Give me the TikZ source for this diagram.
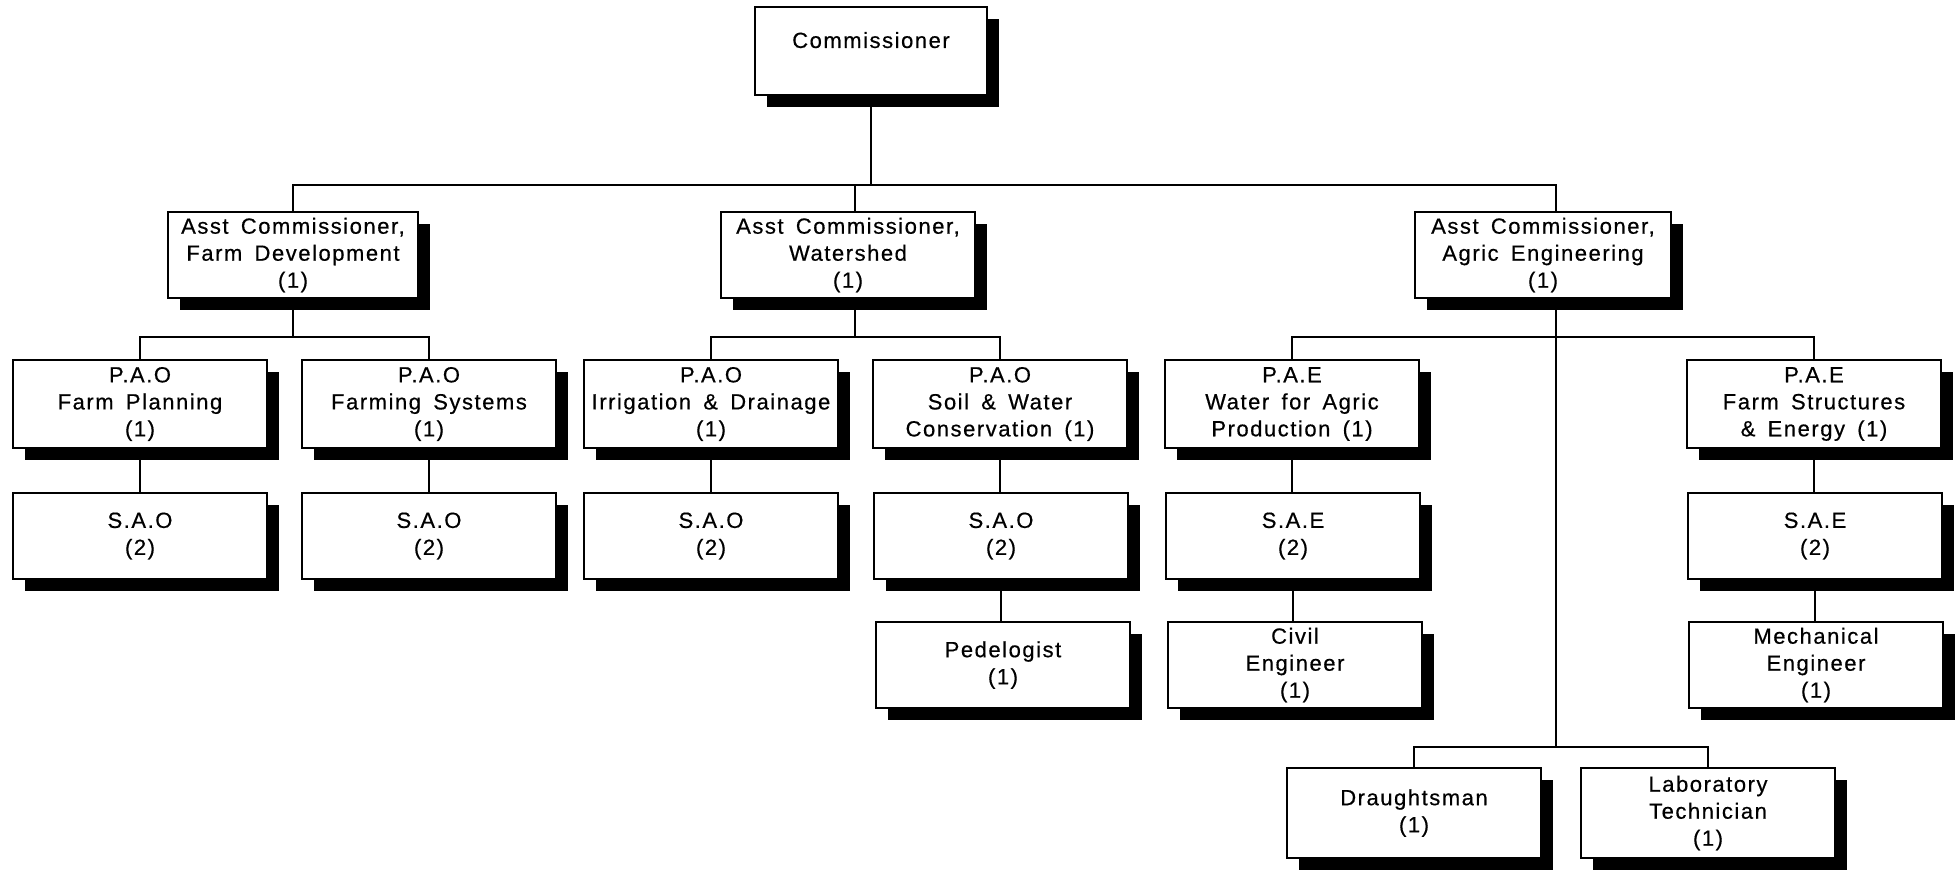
\documentclass[tikz,border=0pt]{standalone}
\usepackage{fontspec}
\setmainfont{Liberation Sans}[LetterSpace=7, WordSpace=1.6, FakeBold=0.5]
\usetikzlibrary{shadows}
\begin{document}
\begin{tikzpicture}[x=1pt,y=-1pt,
  box/.style={draw, line width=1.8pt, fill=white, align=center,
    font=\fontsize{22}{27}\selectfont, inner sep=0pt,
    minimum width=254pt, minimum height=86pt,
    general shadow={fill=black, shadow xshift=12pt, shadow yshift=-12pt}},
  conn/.style={line width=1.8pt}]
\useasboundingbox (0,0) rectangle (1959,870);

% level 0
\node[box, minimum width=232pt, minimum height=88pt] (comm) at (871,51) {\raisebox{22pt}{Commissioner}};
% level 1
\node[box, minimum width=250pt] (fd) at (293,255) {Asst Commissioner,\\Farm Development\\(1)};
\node[box] (ws) at (848,255) {Asst Commissioner,\\Watershed\\(1)};
\node[box, minimum width=256pt] (ae) at (1543,255) {Asst Commissioner,\\Agric Engineering\\(1)};
% level 2
\node[box, minimum height=88pt] (fp)  at (140,404)  {P.A.O\\Farm Planning\\(1)};
\node[box, minimum height=88pt] (fs)  at (429,404)  {P.A.O\\Farming Systems\\(1)};
\node[box, minimum height=88pt] (irr) at (711,404)  {P.A.O\\Irrigation \& Drainage\\(1)};
\node[box, minimum height=88pt] (sw)  at (1000,404) {P.A.O\\Soil \& Water\\Conservation (1)};
\node[box, minimum height=88pt] (wa)  at (1292,404) {P.A.E\\Water for Agric\\Production (1)};
\node[box, minimum height=88pt] (fst) at (1814,404) {P.A.E\\Farm Structures\\\& Energy (1)};
% level 3
\node[box] (sao1) at (140,536)  {S.A.O\\(2)};
\node[box] (sao2) at (429,536)  {S.A.O\\(2)};
\node[box] (sao3) at (711,536)  {S.A.O\\(2)};
\node[box] (sao4) at (1001,536) {S.A.O\\(2)};
\node[box] (sae1) at (1293,536) {S.A.E\\(2)};
\node[box] (sae2) at (1815,536) {S.A.E\\(2)};
% level 4
\node[box] (ped)  at (1003,665) {Pedelogist\\(1)};
\node[box] (civ)  at (1295,665) {Civil\\Engineer\\(1)};
\node[box] (mech) at (1816,665) {Mechanical\\Engineer\\(1)};
% level 5
\node[box, minimum height=90pt] (dr)  at (1414,813) {Draughtsman\\(1)};
\node[box, minimum height=90pt] (lab) at (1708,813) {Laboratory\\Technician\\(1)};

% bus coordinates
\coordinate (bus0) at (0,185);
\coordinate (bus1) at (0,337);
\coordinate (bus3) at (0,747);
\coordinate (aeN) at ([xshift=13pt]ae.north);
\coordinate (aeS) at ([xshift=13pt]ae.south);
\coordinate (wsN) at ([xshift=7pt]ws.north);
\coordinate (wsS) at ([xshift=7pt]ws.south);

% top level
\draw[conn] (comm.south) -- (comm.south |- bus0);
\draw[conn] (fd.north) -- (fd.north |- bus0) -- (aeN |- bus0) -- (aeN);
\draw[conn] (wsN |- bus0) -- (wsN);
% farm development
\draw[conn] (fd.south) -- (fd.south |- bus1);
\draw[conn] (fp.north) |- (fs.north |- bus1) -- (fs.north);
% watershed
\draw[conn] (wsS) -- (wsS |- bus1);
\draw[conn] (irr.north) |- (sw.north |- bus1) -- (sw.north);
% agric engineering
\draw[conn] (wa.north) |- (fst.north |- bus1) -- (fst.north);
\draw[conn] (aeS) -- (aeS |- bus3);
\draw[conn] (dr.north) |- (lab.north |- bus3) -- (lab.north);
% singles
\draw[conn] (fp.south) -- (fp.south |- sao1.north);
\draw[conn] (fs.south) -- (fs.south |- sao2.north);
\draw[conn] (irr.south) -- (irr.south |- sao3.north);
\draw[conn] (sw.south) -- (sw.south |- sao4.north);
\draw[conn] (sao4.south) -- (sao4.south |- ped.north);
\draw[conn] (wa.south) -- (wa.south |- sae1.north);
\draw[conn] (sae1.south) -- (sae1.south |- civ.north);
\draw[conn] (fst.south) -- (fst.south |- sae2.north);
\draw[conn] (sae2.south) -- (sae2.south |- mech.north);
\end{tikzpicture}
\end{document}
